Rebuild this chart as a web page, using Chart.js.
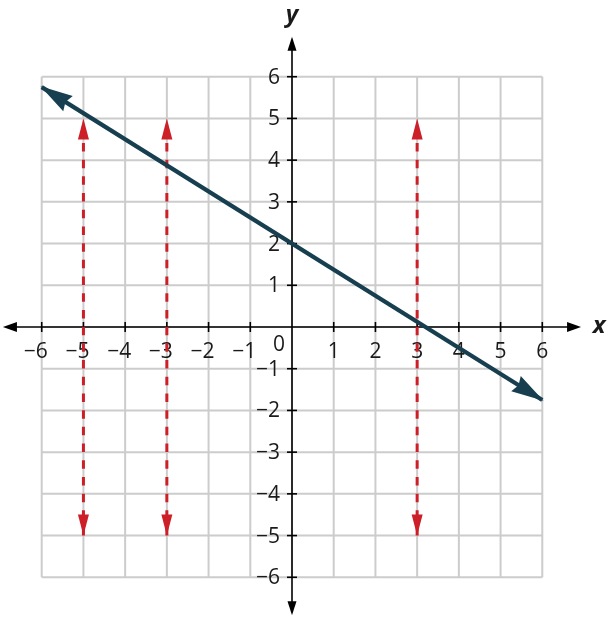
<!DOCTYPE html>
<html>
<head>
<meta charset="utf-8">
<script src="https://cdn.jsdelivr.net/npm/chart.js@4"></script>
<style>
  body { margin: 0; background: #fff; }
  #wrap { width: 608px; height: 620px; }
</style>
</head>
<body>
<div id="wrap"><canvas id="myChart"></canvas></div>
<script>
// values
const lineXs = [-6, 6];
const lineYs = [5.75, -1.75];
const verticalXs = [-5, -3, 3];
const verticalYs = [-5, 5];
const tickValues = [-6, -5, -4, -3, -2, -1, 0, 1, 2, 3, 4, 5, 6];
const xTickLabels = ['\u22126', '\u22125', '\u22124', '\u22123', '\u22122', '\u22121', '0', '1', '2', '3', '4', '5', '6'];
const yTickLabels = ['\u22126', '\u22125', '\u22124', '\u22123', '\u22122', '\u22121', '0', '1', '2', '3', '4', '5', '6'];

const navy = '#173f4f';
const red = '#cc1f28';
const font = '"Open Sans", sans-serif';

const datasets = [{
    label: 'line',
    data: lineXs.map((x, i) => ({x: x, y: lineYs[i]})),
    showLine: true,
    borderColor: navy,
    borderWidth: 4.2,
    pointRadius: 0,
    order: 0
}];
verticalXs.forEach((vx) => {
    datasets.push({
        label: 'x = ' + vx,
        data: verticalYs.map((vy) => ({x: vx, y: vy})),
        showLine: true,
        borderColor: red,
        borderWidth: 3,
        borderDash: [8.5, 8.2],
        pointRadius: 0,
        order: 1
    });
});

// filled arrow head with its tip on `tip`, pointing away from `from`
function arrowHead(ctx, tip, from, len, hw, notch, color, ext) {
    const a = Math.atan2(tip.y - from.y, tip.x - from.x);
    ctx.save();
    ctx.translate(tip.x, tip.y);
    ctx.rotate(a);
    ctx.fillStyle = color;
    ctx.beginPath();
    ctx.moveTo(ext || 0, 0);
    ctx.lineTo(-len, -hw);
    ctx.lineTo(-len + notch, 0);
    ctx.lineTo(-len, hw);
    ctx.closePath();
    ctx.fill();
    ctx.restore();
}

const axesPlugin = {
    id: 'axesPlugin',
    beforeDatasetsDraw: (chart) => {
        const {ctx, scales: {x, y}} = chart;
        const x0 = x.getPixelForValue(0), y0 = y.getPixelForValue(0);
        const left = x.getPixelForValue(-6), right = x.getPixelForValue(6);
        const top = y.getPixelForValue(6), bottom = y.getPixelForValue(-6);
        ctx.save();
        // grid
        ctx.strokeStyle = '#cccccc';
        ctx.lineWidth = 2;
        tickValues.forEach((v) => {
            const px = x.getPixelForValue(v), py = y.getPixelForValue(v);
            ctx.beginPath(); ctx.moveTo(px, top); ctx.lineTo(px, bottom); ctx.stroke();
            ctx.beginPath(); ctx.moveTo(left, py); ctx.lineTo(right, py); ctx.stroke();
        });
        // axes
        const xl = x.getPixelForValue(-6.93), xr = x.getPixelForValue(6.93);
        const yt = y.getPixelForValue(6.96), yb = y.getPixelForValue(-6.91);
        ctx.strokeStyle = '#000';
        ctx.lineWidth = 1.6;
        ctx.beginPath(); ctx.moveTo(xl + 6, y0); ctx.lineTo(xr - 6, y0); ctx.stroke();
        ctx.beginPath(); ctx.moveTo(x0, yt + 6); ctx.lineTo(x0, yb - 6); ctx.stroke();
        arrowHead(ctx, {x: xl, y: y0}, {x: x0, y: y0}, 14, 5, 0, '#000');
        arrowHead(ctx, {x: xr, y: y0}, {x: x0, y: y0}, 14, 5, 0, '#000');
        arrowHead(ctx, {x: x0, y: yt}, {x: x0, y: y0}, 14, 4.5, 0, '#000');
        arrowHead(ctx, {x: x0, y: yb}, {x: x0, y: y0}, 14, 4.5, 0, '#000');
        // tick marks
        tickValues.forEach((v) => {
            if (v === 0) return;
            const px = x.getPixelForValue(v), py = y.getPixelForValue(v);
            ctx.beginPath(); ctx.moveTo(px, y0 - 5); ctx.lineTo(px, y0 + 5); ctx.stroke();
            ctx.beginPath(); ctx.moveTo(x0 - 5, py); ctx.lineTo(x0 + 5, py); ctx.stroke();
        });
        // tick labels, digit centred on the tick, minus sign hanging left
        ctx.fillStyle = '#1a1a1a';
        ctx.font = '21px ' + font;
        ctx.textBaseline = 'middle';
        tickValues.forEach((v, i) => {
            if (v === 0) return;
            const px = x.getPixelForValue(v);
            const lab = xTickLabels[i];
            const digitW = ctx.measureText(lab.replace('\u2212', '')).width;
            ctx.textAlign = 'right';
            ctx.fillText(lab, px + digitW / 2, y0 + 25);
            const py = y.getPixelForValue(v);
            ctx.fillText(yTickLabels[i], x0 - 12, py + 1);
        });
        ctx.textAlign = 'center';
        ctx.fillText(xTickLabels[tickValues.indexOf(0)], x0 - 13, y0 + 18);
        // axis titles
        ctx.font = 'italic bold 24px ' + font;
        ctx.fillText('x', 599, y0 - 1);
        ctx.fillText('y', x0, 15);
        ctx.restore();
    },
    afterDatasetsDraw: (chart) => {
        const {ctx} = chart;
        chart.data.datasets.forEach((ds, i) => {
            const pts = chart.getDatasetMeta(i).data;
            const a = pts[0], b = pts[pts.length - 1];
            if (i === 0) {
                arrowHead(ctx, a, b, 31, 9, 3, navy, 1.5);
                arrowHead(ctx, b, a, 31, 9, 3, navy, 1.5);
            } else {
                arrowHead(ctx, a, b, 21, 5.5, 0, red);
                arrowHead(ctx, b, a, 21, 5.5, 0, red);
            }
        });
    }
};

const config = {
    type: 'scatter',
    data: {datasets: datasets},
    options: {
        responsive: true,
        maintainAspectRatio: false,
        animation: false,
        layout: {padding: {left: 0, right: 24, top: 35, bottom: 1}},
        plugins: {legend: {display: false}, tooltip: {enabled: false}},
        scales: {
            x: {type: 'linear', min: -7, max: 7, display: false},
            y: {type: 'linear', min: -7, max: 7, display: false}
        }
    },
    plugins: [axesPlugin]
};

const myChart = new Chart(document.getElementById('myChart'), config);
</script>
</body>
</html>
